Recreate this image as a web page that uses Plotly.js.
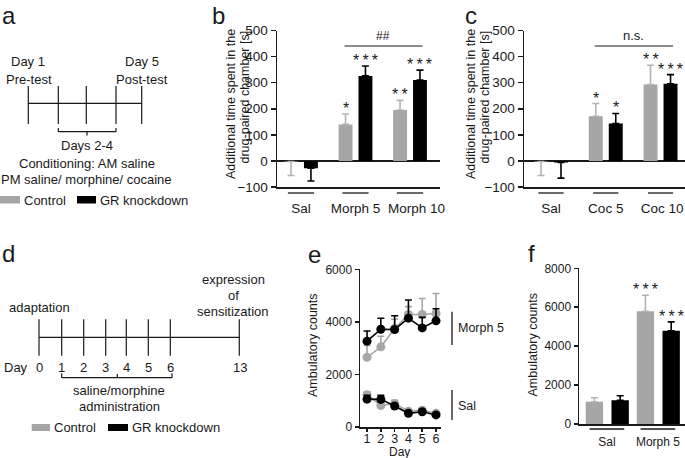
<!DOCTYPE html>
<html><head><meta charset="utf-8">
<script src="https://cdn.plot.ly/plotly-3.0.1.min.js"></script>
<style>html,body{margin:0;padding:0;background:#fff}#chart{width:685px;height:458px}</style>
</head><body><div id="chart"></div>
<script>
// ---------- data ----------
const groupsB = ['Sal', 'Morph 5', 'Morph 10'];
const ctrlB = [-2, 140, 195];
const ctrlBErr = [54, 40, 37];
const grB = [-28, 326, 310];
const grBErr = [49, 38, 38];
const starsCtrlB = ['', '*', '**'];
const starsGrB = ['', '***', '***'];

const groupsC = ['Sal', 'Coc 5', 'Coc 10'];
const ctrlC = [-2, 171, 293];
const ctrlCErr = [54, 49, 74];
const grC = [-6, 143, 296];
const grCErr = [60, 39, 35];
const starsCtrlC = ['', '*', '**'];
const starsGrC = ['', '*', '***'];

const days = [1, 2, 3, 4, 5, 6];
const morphCtrl = [2650, 3050, 3750, 4280, 4280, 4320];
const morphCtrlErr = [450, 400, 350, 300, 610, 760];
const morphGr = [3265, 3720, 3710, 4140, 3770, 4040];
const morphGrErr = [390, 420, 520, 690, 400, 460];
const salCtrl = [1230, 820, 890, 600, 640, 520];
const salCtrlErr = [110, 100, 130, 60, 80, 60];
const salGr = [1060, 1050, 800, 520, 580, 460];
const salGrErr = [150, 160, 60, 50, 50, 40];

const groupsF = ['Sal', 'Morph 5'];
const ctrlF = [1145, 5795];
const ctrlFErr = [205, 820];
const grF = [1215, 4785];
const grFErr = [235, 460];
const starsCtrlF = ['', '***'];
const starsGrF = ['', '***'];

// ---------- helpers ----------
const W = 685, H = 458;
const px = x => x / W, py = y => 1 - y / H;
const FONT = 'Liberation Sans, Arial, sans-serif';
const GREY = '#a6a6a6', BLACK = '#000000', INK = '#1a1a1a';

function barTrace(xa, ya, vals, errs, color, errColor, offset, width) {
  return {
    type: 'bar', x: vals.map((_, i) => i), y: vals, offset: offset, width: width,
    marker: {color: color, line: {width: 0}},
    error_y: {type: 'data', symmetric: false,
      array: vals.map((v, i) => v >= 0 ? errs[i] : 0),
      arrayminus: vals.map((v, i) => v < 0 ? errs[i] : 0),
      color: errColor, thickness: 1.6, width: 3.5},
    xaxis: xa, yaxis: ya, hoverinfo: 'skip', showlegend: false
  };
}
function lineTrace(xa, ya, vals, errs, color) {
  return {
    type: 'scatter', mode: 'lines+markers', x: days, y: vals,
    line: {color: color, width: 1.6},
    marker: {color: color, size: 9},
    error_y: {type: 'data', symmetric: false, array: errs, arrayminus: days.map(() => 0),
      color: color, thickness: 1.6, width: 3.5},
    xaxis: xa, yaxis: ya, hoverinfo: 'skip', showlegend: false
  };
}
function starAnns(xref, yref, vals, errs, stars, xoff, size) {
  return vals.map((v, i) => ({
    x: i + xoff, y: v + errs[i], xref: xref, yref: yref,
    text: stars[i].split('').join('\u2009'), showarrow: false, xanchor: 'center',
    yanchor: 'bottom', yshift: -5, font: {family: FONT, size: size, color: INK}
  })).filter(a => a.text !== '');
}
const shapes = [];
const anns = [];
function L(x0, y0, x1, y1, w, c) {
  shapes.push({type: 'line', xref: 'paper', yref: 'paper', x0: px(x0), y0: py(y0), x1: px(x1), y1: py(y1),
    line: {color: c || INK, width: w || 1.2}});
}
function R(x0, y0, x1, y1, c) {
  shapes.push({type: 'rect', xref: 'paper', yref: 'paper', x0: px(x0), y0: py(y0), x1: px(x1), y1: py(y1),
    fillcolor: c, line: {width: 0}});
}
function T(text, x, y, anchor, size, extra) {
  anns.push(Object.assign({text: text, x: px(x), y: py(y), xref: 'paper', yref: 'paper', showarrow: false,
    xanchor: anchor || 'center', yanchor: 'middle', font: {family: FONT, size: size || 13, color: INK}}, extra || {}));
}

// ---------- traces ----------
const CO = -0.31, GO = 0.055, BW = 0.255;
const FCO = -0.415, FGO = 0.09, FBW = 0.34;
const data = [
  barTrace('x', 'y', ctrlB, ctrlBErr, GREY, '#b3b3b3', CO, BW),
  barTrace('x', 'y', grB, grBErr, BLACK, BLACK, GO, BW),
  barTrace('x2', 'y2', ctrlC, ctrlCErr, GREY, '#b3b3b3', CO, BW),
  barTrace('x2', 'y2', grC, grCErr, BLACK, BLACK, GO, BW),
  lineTrace('x3', 'y3', morphCtrl, morphCtrlErr, GREY),
  lineTrace('x3', 'y3', salCtrl, salCtrlErr, GREY),
  lineTrace('x3', 'y3', morphGr, morphGrErr, BLACK),
  lineTrace('x3', 'y3', salGr, salGrErr, BLACK),
  barTrace('x4', 'y4', ctrlF, ctrlFErr, GREY, '#b3b3b3', FCO, FBW),
  barTrace('x4', 'y4', grF, grFErr, BLACK, BLACK, FGO, FBW)
];

// ---------- stars / significance ----------
anns.push(...starAnns('x', 'y', ctrlB, ctrlBErr, starsCtrlB, CO + BW / 2, 16));
anns.push(...starAnns('x', 'y', grB, grBErr, starsGrB, GO + BW / 2, 16));
anns.push(...starAnns('x2', 'y2', ctrlC, ctrlCErr, starsCtrlC, CO + BW / 2, 16));
anns.push(...starAnns('x2', 'y2', grC, grCErr, starsGrC, GO + BW / 2, 16));
anns.push(...starAnns('x4', 'y4', ctrlF, ctrlFErr, starsCtrlF, FCO + FBW / 2, 16));
anns.push(...starAnns('x4', 'y4', grF, grFErr, starsGrF, FGO + FBW / 2, 16));

// group underlines
function underlines(xref, groups, half, yPix) {
  groups.forEach((g, i) => shapes.push({type: 'line', xref: xref, yref: 'paper', x0: i - half, x1: i + half,
    y0: py(yPix), y1: py(yPix), line: {color: INK, width: 1.3}}));
}
underlines('x', groupsB, 0.24, 193);
underlines('x2', groupsC, 0.23, 193);
underlines('x4', groupsF, 0.34, 429);

// significance bars
shapes.push({type: 'line', xref: 'x', yref: 'paper', x0: 0.8, x1: 2.23, y0: py(46), y1: py(46), line: {color: INK, width: 1.2}});
anns.push({text: '##', x: 1.5, y: py(36), xref: 'x', yref: 'paper', showarrow: false, xanchor: 'center', yanchor: 'middle',
  font: {family: FONT, size: 12, color: INK}});
shapes.push({type: 'line', xref: 'x2', yref: 'paper', x0: 0.8, x1: 2.23, y0: py(46), y1: py(46), line: {color: INK, width: 1.2}});
anns.push({text: 'n.s.', x: 1.5, y: py(36), xref: 'x2', yref: 'paper', showarrow: false, xanchor: 'center', yanchor: 'middle',
  font: {family: FONT, size: 13, color: INK}});

// ---------- panel letters ----------
function letter(t, x, yTop) {
  anns.push({text: t, x: px(x), y: py(yTop), xref: 'paper', yref: 'paper', showarrow: false,
    xanchor: 'left', yanchor: 'top', font: {family: FONT, size: 24, color: INK}});
}
letter('a', 0, 0); letter('b', 210, 0); letter('c', 463, 0);
letter('d', 0, 238); letter('e', 306, 239); letter('f', 526, 238);

// ---------- axis titles ----------
function vt(text, x, yTop, size) {
  anns.push({text: text, x: px(x), y: py(yTop), xref: 'paper', yref: 'paper', showarrow: false, textangle: -90,
    xanchor: 'center', yanchor: 'top', font: {family: FONT, size: size, color: INK}});
}
vt('Additional time spent in the', 231, 27, 12.5);
vt('drug-paired chamber [s]', 244, 29, 12.5);
vt('Additional time spent in the', 471, 27, 12.5);
vt('drug-paired chamber [s]', 484, 29, 12.5);
anns.push({text: 'Ambulatory counts', x: px(312.5), y: py(345.5), xref: 'paper', yref: 'paper', showarrow: false,
  xanchor: 'center', yanchor: 'middle', textangle: -90, font: {family: FONT, size: 12.5, color: INK}});
anns.push({text: 'Ambulatory counts', x: px(532.5), y: py(345), xref: 'paper', yref: 'paper', showarrow: false,
  xanchor: 'center', yanchor: 'middle', textangle: -90, font: {family: FONT, size: 12.5, color: INK}});
T('Day', 400, 452, 'center', 12);

// panel e brackets
L(452, 311.7, 452, 345, 1.3); L(452, 390, 452, 420, 1.3);
T('Morph 5', 456, 328, 'left', 12.5); T('Sal', 456, 406, 'left', 12.5);

// ---------- panel a diagram ----------
L(28.3, 103.3, 141.7, 103.3);
[28.3, 58.3, 86.3, 116, 141.7].forEach(x => L(x, 86, x, 124));
L(58.3, 131.7, 116, 131.7); L(58.3, 128, 58.3, 131.7); L(116, 128, 116, 131.7); L(87, 131.7, 87, 135.5);
T('Day 1', 27.5, 62); T('Pre-test', 28.5, 79); T('Day 5', 141.5, 62); T('Post-test', 141.7, 79);
T('Days 2-4', 87, 146); T('Conditioning: AM saline', 87, 163); T('PM saline/ morphine/ cocaine', 87, 179);
R(0, 196, 20, 203.5, GREY); T('Control', 21.5, 200, 'left');
R(77, 196, 96, 203.5, BLACK); T('GR knockdown', 97.5, 200, 'left');

// ---------- panel d diagram ----------
L(39, 337.3, 239.3, 337.3);
[39, 61.7, 83.7, 105.7, 126.3, 148.3, 170.3, 239.3].forEach(x => L(x, 319.3, x, 355.7));
T('Day', 30, 367.3, 'right');
[['0', 39], ['1', 61.7], ['2', 83.7], ['3', 105.7], ['4', 126.3], ['5', 148.3], ['6', 170.3], ['13', 240]].forEach(d => T(d[0], d[1], 367.3));
L(61.7, 377.7, 172, 377.7); L(61.7, 373.3, 61.7, 377.7); L(172, 373.3, 172, 377.7); L(117.3, 374, 117.3, 377.7);
T('saline/morphine', 119.3, 390); T('administration', 119.3, 406.7);
T('adaptation', 39.7, 307.7); T('expression', 233.3, 279); T('of', 233.3, 295.7); T('sensitization', 233, 311.7);
R(31.7, 424, 50, 431, GREY); T('Control', 51.5, 427.7, 'left');
R(108, 424, 128, 431, BLACK); T('GR knockdown', 129.5, 427.7, 'left');

// ---------- axes ----------
const axBase = {showline: true, linecolor: INK, linewidth: 1.5, showgrid: false, zeroline: false,
  ticks: 'outside', ticklen: 4, tickwidth: 1.5, tickcolor: INK, fixedrange: true,
  tickfont: {family: FONT, size: 13.5, color: INK}};
function catX(domain, range, groups, size, labelPos) {
  return Object.assign({}, axBase, {domain: domain, range: range, tickvals: labelPos, ticktext: groups,
    ticklen: 8, tickangle: 0, tickcolor: 'rgba(0,0,0,0)', tickfont: {family: FONT, size: size, color: INK}});
}
const yBC = {range: [-100, 500], tickvals: [-100, 0, 100, 200, 300, 400, 500], zeroline: true, zerolinecolor: INK, zerolinewidth: 1.5, ticklen: 5};

const layout = {
  width: W, height: H, margin: {l: 0, r: 0, t: 0, b: 0}, paper_bgcolor: '#fff', plot_bgcolor: 'rgba(0,0,0,0)',
  barmode: 'overlay', showlegend: false, font: {family: FONT, color: INK},
  xaxis: catX([px(277), px(440)], [-0.44, 2.55], groupsB, 13.5, [0, 1, 2.12]),
  yaxis: Object.assign({}, axBase, yBC, {domain: [py(187), py(30.5)], anchor: 'x'}),
  xaxis2: Object.assign(catX([px(524), 1], [-0.493, 2.447], groupsC, 13.5, [0, 1, 2.03]), {anchor: 'y2'}),
  yaxis2: Object.assign({}, axBase, yBC, {domain: [py(187), py(30.5)], anchor: 'x2'}),
  xaxis3: Object.assign({}, axBase, {domain: [px(360), px(441)], range: [0.49, 6.36], tickvals: days, anchor: 'y3',
    ticklen: 3, tickangle: 0, ticklabelstandoff: -4, tickfont: {family: FONT, size: 12.5, color: INK}}),
  yaxis3: Object.assign({}, axBase, {domain: [py(427), py(269.3)], range: [0, 6000], tickvals: [0, 2000, 4000, 6000], anchor: 'x3',
    tickfont: {family: FONT, size: 12, color: INK}}),
  xaxis4: Object.assign(catX([px(579), 1], [-0.547, 1.531], groupsF, 12, [0, 1]), {anchor: 'y4', ticklen: 6}),
  yaxis4: Object.assign({}, axBase, {domain: [py(424), py(268.3)], range: [0, 8000], tickvals: [0, 2000, 4000, 6000, 8000], anchor: 'x4',
    tickfont: {family: FONT, size: 12, color: INK}}),
  shapes: shapes, annotations: anns
};
Plotly.newPlot('chart', data, layout, {staticPlot: true, displayModeBar: false});
</script></body></html>
